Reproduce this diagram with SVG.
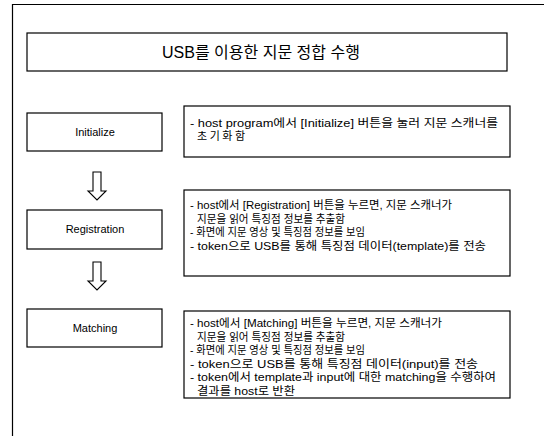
<svg xmlns="http://www.w3.org/2000/svg" width="544" height="436" viewBox="0 0 544 436">
<style>
.box{fill:#fff;stroke:#000;stroke-width:1.2}
.t{font-family:"Liberation Sans","Noto Sans CJK KR",sans-serif;fill:#000}
.title{font-size:16px}
.lbl{font-size:11px}
.d{font-size:11px}
.arr{fill:#fff;stroke:#000;stroke-width:1.1;stroke-linejoin:miter}
</style>
<rect width="544" height="436" fill="#fff"/>
<g id="frame"><path d="M12.5,436 V4.5 H544" fill="none" stroke="#000" stroke-width="1.2"/></g>
<g id="title"><rect class="box" x="27" y="33" width="480" height="38"/><text class="t title" x="261" y="57.5" text-anchor="middle">USB를 이용한 지문 정합 수행</text></g>
<g id="initialize"><rect class="box" x="27" y="113" width="135" height="38"/><text class="t lbl" x="95" y="136" text-anchor="middle">Initialize</text></g>
<g id="registration"><rect class="box" x="27" y="210" width="135" height="39"/><text class="t lbl" x="95" y="233" text-anchor="middle">Registration</text></g>
<g id="matching"><rect class="box" x="27" y="309" width="135" height="38"/><text class="t lbl" x="95" y="332" text-anchor="middle">Matching</text></g>
<g id="desc-initialize"><rect class="box" x="184" y="106" width="326" height="51"/>
<text class="t d" x="190" y="127" textLength="308" lengthAdjust="spacingAndGlyphs">- host program에서 [Initialize] 버튼을 눌러 지문 스캐너를</text>
<text class="t d" x="197" y="140" textLength="48">초기화함</text></g>
<g id="desc-registration"><rect class="box" x="184" y="190" width="326" height="86"/>
<text class="t d" x="190" y="209" textLength="262" lengthAdjust="spacingAndGlyphs">- host에서 [Registration] 버튼을 누르면, 지문 스캐너가</text>
<text class="t d" x="197" y="222.5" textLength="148" lengthAdjust="spacingAndGlyphs">지문을 읽어 특징점 정보를 추출함</text>
<text class="t d" x="190" y="236" textLength="175" lengthAdjust="spacingAndGlyphs">- 화면에 지문 영상 및 특징점 정보를 보임</text>
<text class="t d" x="190" y="249.5" textLength="296" lengthAdjust="spacingAndGlyphs">- token으로 USB를 통해 특징점 데이터(template)를 전송</text></g>
<g id="desc-matching"><rect class="box" x="184" y="311" width="326" height="87"/>
<text class="t d" x="190" y="327" textLength="252" lengthAdjust="spacingAndGlyphs">- host에서 [Matching] 버튼을 누르면, 지문 스캐너가</text>
<text class="t d" x="197" y="340.5" textLength="148" lengthAdjust="spacingAndGlyphs">지문을 읽어 특징점 정보를 추출함</text>
<text class="t d" x="190" y="354" textLength="175" lengthAdjust="spacingAndGlyphs">- 화면에 지문 영상 및 특징점 정보를 보임</text>
<text class="t d" x="190" y="367.5" textLength="288" lengthAdjust="spacingAndGlyphs">- token으로 USB를 통해 특징점 데이터(input)를 전송</text>
<text class="t d" x="190" y="381" textLength="306" lengthAdjust="spacingAndGlyphs">- token에서 template과 input에 대한 matching을 수행하여</text>
<text class="t d" x="197" y="394.5" textLength="98" lengthAdjust="spacingAndGlyphs">결과를 host로 반환</text></g>
<g id="connectors">
<path class="arr" d="M93,172 H101 V191 H106 L97,200 L88,191 H93 Z"/>
<path class="arr" d="M93,262 H101 V281 H106 L97,290 L88,281 H93 Z"/>
</g>
</svg>
